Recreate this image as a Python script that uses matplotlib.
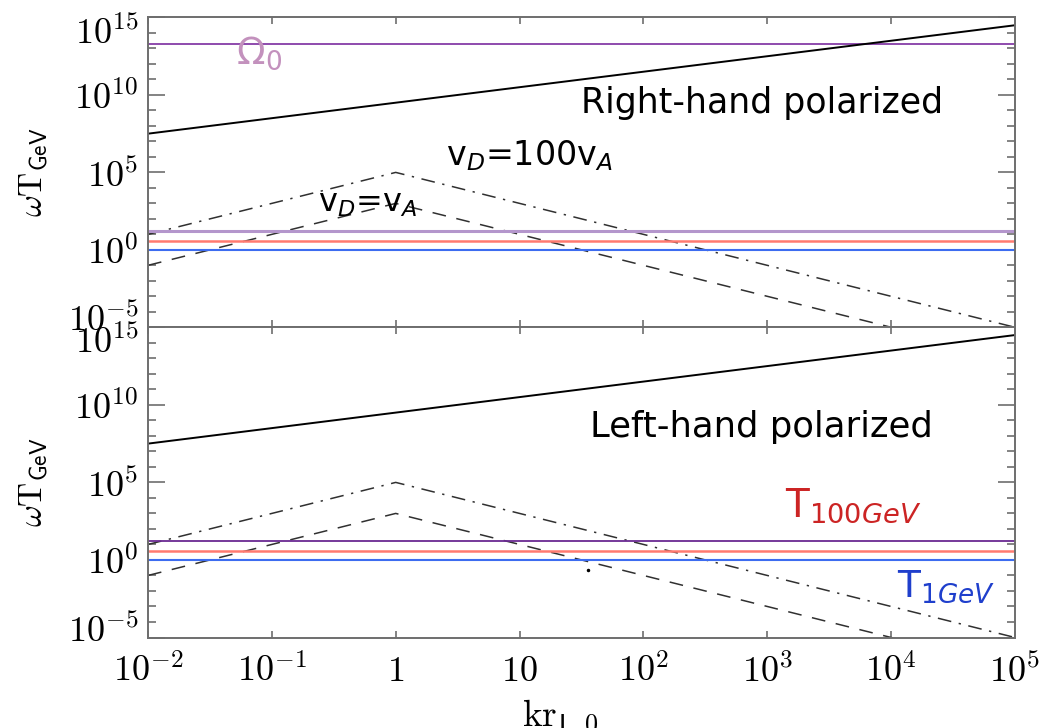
import numpy as np
import matplotlib
matplotlib.use("Agg")
import matplotlib.pyplot as plt
from matplotlib.ticker import FixedLocator, FixedFormatter, NullFormatter
from matplotlib.transforms import ScaledTranslation

plt.rcParams['mathtext.fontset'] = 'cm'

# wavenumber nodes (k r_L,0) where the piecewise power laws change slope
k_nodes = [1e-2, 1.0, 1e5]
# solid: wave frequency of the polarized mode
omega_wave = [10**7.5, 10**9.5, 10**14.5]
# dash-dot: growth rate for v_D = 100 v_A
omega_vd100 = [1e1, 1e5, 1e-5]
# dashed: growth rate for v_D = v_A
omega_vd1 = [1e-1, 1e3, 1e-7]

# horizontal reference levels
omega0_level = 10**13.27
purple_level = 10**1.2
t100_level = 10**0.6
t1_level = 1.0

# stray point in the lower panel
dot_k = [36.0]
dot_w = [10**-0.66]

xtick_vals = [1e-2, 1e-1, 1, 10, 1e2, 1e3, 1e4, 1e5]
xtick_labels = [r'$10^{-2}$', r'$10^{-1}$', r'$1$', r'$10$', r'$10^{2}$',
                r'$10^{3}$', r'$10^{4}$', r'$10^{5}$']
ytick_vals = [1e-5, 1e0, 1e5, 1e10, 1e15]
ytick_labels = [r'$10^{-5}$', r'$10^{0}$', r'$10^{5}$', r'$10^{10}$', r'$10^{15}$']

W, H = 1056, 728
fig = plt.figure(figsize=(W / 100, H / 100), dpi=100)

left = 148 / W
width = (1015 - 148) / W
ax_top = fig.add_axes([left, 1 - 327.3 / H, width, (327.3 - 17.5) / H])
ax_bot = fig.add_axes([left, 1 - 637.5 / H, width, (637.5 - 327.3) / H])

spine_col = '#6e6e6e'
line_col = '#303030'
tick_fs = 26


def style_axes(ax, show_xlabels):
    ax.set_xscale('log')
    ax.set_yscale('log')
    ax.set_xlim(1e-2, 1e5)
    ax.set_ylim(1e-5, 1e15)
    ax.xaxis.set_major_locator(FixedLocator(xtick_vals))
    ax.xaxis.set_minor_locator(FixedLocator([]))
    if show_xlabels:
        ax.xaxis.set_major_formatter(FixedFormatter(xtick_labels))
    else:
        ax.xaxis.set_major_formatter(NullFormatter())
    ax.xaxis.set_minor_formatter(NullFormatter())
    ax.yaxis.set_major_locator(FixedLocator(ytick_vals))
    ax.yaxis.set_major_formatter(FixedFormatter(ytick_labels))
    ax.yaxis.set_minor_locator(FixedLocator([10.0**i for i in range(-5, 16)]))
    ax.yaxis.set_minor_formatter(NullFormatter())
    ax.tick_params(axis='both', which='both', direction='in', top=True,
                   right=True, color=spine_col, width=1.2)
    ax.tick_params(axis='y', which='major', length=12, pad=7, labelsize=tick_fs)
    ax.tick_params(axis='y', which='minor', length=6)
    ax.tick_params(axis='x', which='major', length=5, pad=12, labelsize=tick_fs)
    for s in ax.spines.values():
        s.set_color(spine_col)
        s.set_linewidth(1.4)
    ax.set_ylabel(r'$\omega\mathrm{T}_{\mathsf{GeV}}$', fontsize=24)
    ax.yaxis.set_label_coords(-0.113, 0.5)


def draw_common(ax, purple_col, purple_lw):
    ax.plot(k_nodes, omega_wave, color='black', lw=1.4)
    ax.plot(k_nodes, omega_vd100, color=line_col, lw=1.1,
            dashes=(9, 5, 1.5, 5))
    ax.plot(k_nodes, omega_vd1, color=line_col, lw=1.1, dashes=(9, 7))
    ax.axhline(purple_level, color=purple_col, lw=purple_lw)
    ax.axhline(t100_level, color='#ff7a70', lw=1.8)
    ax.axhline(t1_level, color='#3d6cf0', lw=1.5)


style_axes(ax_top, False)
style_axes(ax_bot, True)

# upper panel: right-hand polarized mode
ax_top.axhline(omega0_level, color='#7b2ca0', lw=1.2)
draw_common(ax_top, '#b496cc', 2.2)

# lower panel: left-hand polarized mode
draw_common(ax_bot, '#6a2a92', 1.3)
ax_bot.plot(dot_k, dot_w, 'o', color='black', ms=1.5)

ax_bot.set_xlabel(r'$\mathrm{kr}_{\mathsf{L,0}}$', fontsize=27)
ax_bot.xaxis.set_label_coords(0.475, -0.195)

ann_font = dict(family='DejaVu Sans', math_fontfamily='dejavusans',
                va='baseline', ha='left')

ax_top.text(0.101, 0.85, r'$\Omega_0$', transform=ax_top.transAxes,
            fontsize=27, color='#c391bd', **ann_font)
ax_top.text(0.499, 0.692, 'Right-hand polarized', transform=ax_top.transAxes,
            fontsize=25, color='black', **ann_font)
ax_top.text(0.344, 0.524, r'v$_D$=100v$_A$', transform=ax_top.transAxes,
            fontsize=24, color='black', **ann_font)
ax_top.text(0.196, 0.374, r'v$_D$=v$_A$', transform=ax_top.transAxes,
            fontsize=23, color='black', **ann_font)

ax_bot.text(0.51, 0.646, 'Left-hand polarized', transform=ax_bot.transAxes,
            fontsize=25.5, color='black', **ann_font)
ax_bot.text(0.735, 0.389, r'T$_{100GeV}$', transform=ax_bot.transAxes,
            fontsize=28, color='#cc2424', **ann_font)
ax_bot.text(0.864, 0.131, r'T$_{1GeV}$', transform=ax_bot.transAxes,
            fontsize=27, color='#1f3fcc', **ann_font)

# nudge the end labels of each y axis inward, away from the panel edges
fig.canvas.draw()
for ax in (ax_top, ax_bot):
    ticks = ax.yaxis.get_major_ticks()
    for tick, dy in ((ticks[0], 10), (ticks[-1], -12)):
        tick.label1.set_transform(tick.label1.get_transform()
                                  + ScaledTranslation(0, dy / 100,
                                                      fig.dpi_scale_trans))

fig.savefig('out.png', dpi=100)
